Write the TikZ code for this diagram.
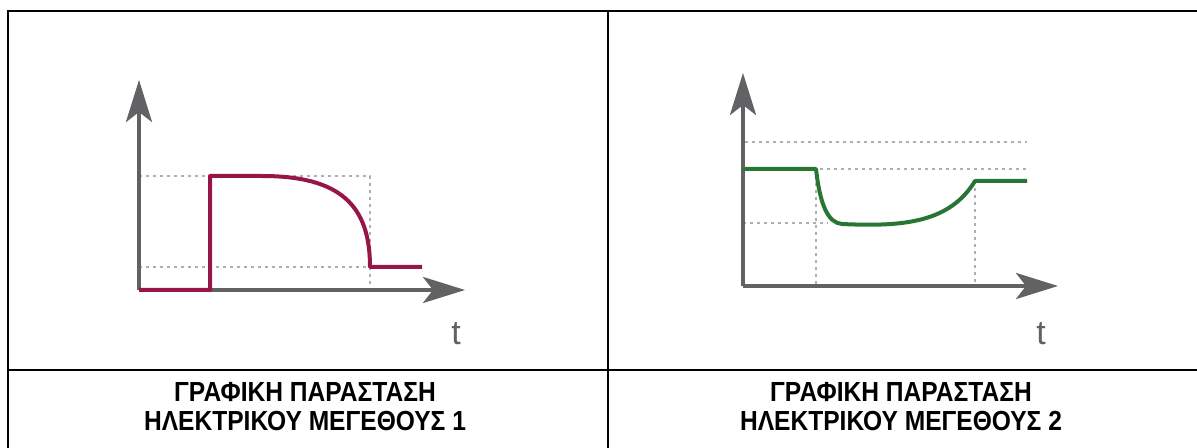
\documentclass[tikz,border=0pt]{standalone}
\usepackage{fontspec}
\setmainfont{Liberation Sans}
\newfontfamily\titlefont[FakeStretch=0.89]{Liberation Sans}
\usetikzlibrary{arrows.meta}
\definecolor{axisgray}{RGB}{98,98,100}
\definecolor{dotgray}{RGB}{175,175,178}
\definecolor{plum}{RGB}{150,22,72}
\definecolor{leaf}{RGB}{40,118,52}
\begin{document}
\begin{tikzpicture}[x=0.5pt,y=-0.5pt]
\tikzset{
	axis/.style={draw=axisgray, line width=2pt, -{Stealth[length=21pt,width=13pt,inset=5pt]}},
	guide/.style={draw=dotgray, line width=1.1pt, dash pattern=on 1.3pt off 2.2pt},
	title/.style={anchor=base, inner sep=0pt, font=\titlefont\fontsize{13.8}{15}\selectfont\bfseries},
	tlabel/.style={text=axisgray, inner sep=0pt, font=\fontsize{17}{17}\selectfont}
}
\useasboundingbox (0,0) rectangle (1197,448);

% table
\draw[line width=1.3pt] (8,470) -- (8,11) -- (1200,11);
\draw[line width=1.3pt] (8,370) -- (1200,370);
\draw[line width=1.3pt] (608,11) -- (608,470);

% first graph
\coordinate (o1) at (139,290);
\draw[guide] (139,176) -- (370,176) -- (370,290);
\draw[guide] (139,267) -- (370,267);
\draw[axis] (o1) -- (139,80);
\draw[axis] (o1) -- (465,290);
\draw[draw=plum, line width=2pt, line join=round] (o1) -- (210,290) -- (210,176) -- (262,176)
	.. controls (340,176) and (370,205) .. (370,267) -- (422,267);
\node[tlabel] (t1) at (456,334) {t};

% second graph
\coordinate (o2) at (743,286);
\draw[guide] (745,142) -- (1027,142);
\draw[guide] (820,169) -- (1027,169);
\draw[guide] (743,223) -- (828,223);
\draw[guide] (816,169) -- (816,286);
\draw[guide] (975,181) -- (975,286);
\draw[axis] (o2) -- (743,73);
\draw[axis] (o2) -- (1058,286);
\draw[draw=leaf, line width=2pt, line join=round] (743,169) -- (816,169)
	.. controls (820,205) and (828,223) .. (842,224)
	.. controls (905,227) and (950,222) .. (975,181) -- (1027,181);
\node[tlabel] (t2) at (1041,334) {t};

% titles
\node[title] (title1a) at (305,401) {ΓΡΑΦΙΚΗ ΠΑΡΑΣΤΑΣΗ};
\node[title] (title1b) at (305,430) {ΗΛΕΚΤΡΙΚΟΥ ΜΕΓΕΘΟΥΣ 1};
\node[title] (title2a) at (901,401) {ΓΡΑΦΙΚΗ ΠΑΡΑΣΤΑΣΗ};
\node[title] (title2b) at (901,430) {ΗΛΕΚΤΡΙΚΟΥ ΜΕΓΕΘΟΥΣ 2};

\end{tikzpicture}
\end{document}
